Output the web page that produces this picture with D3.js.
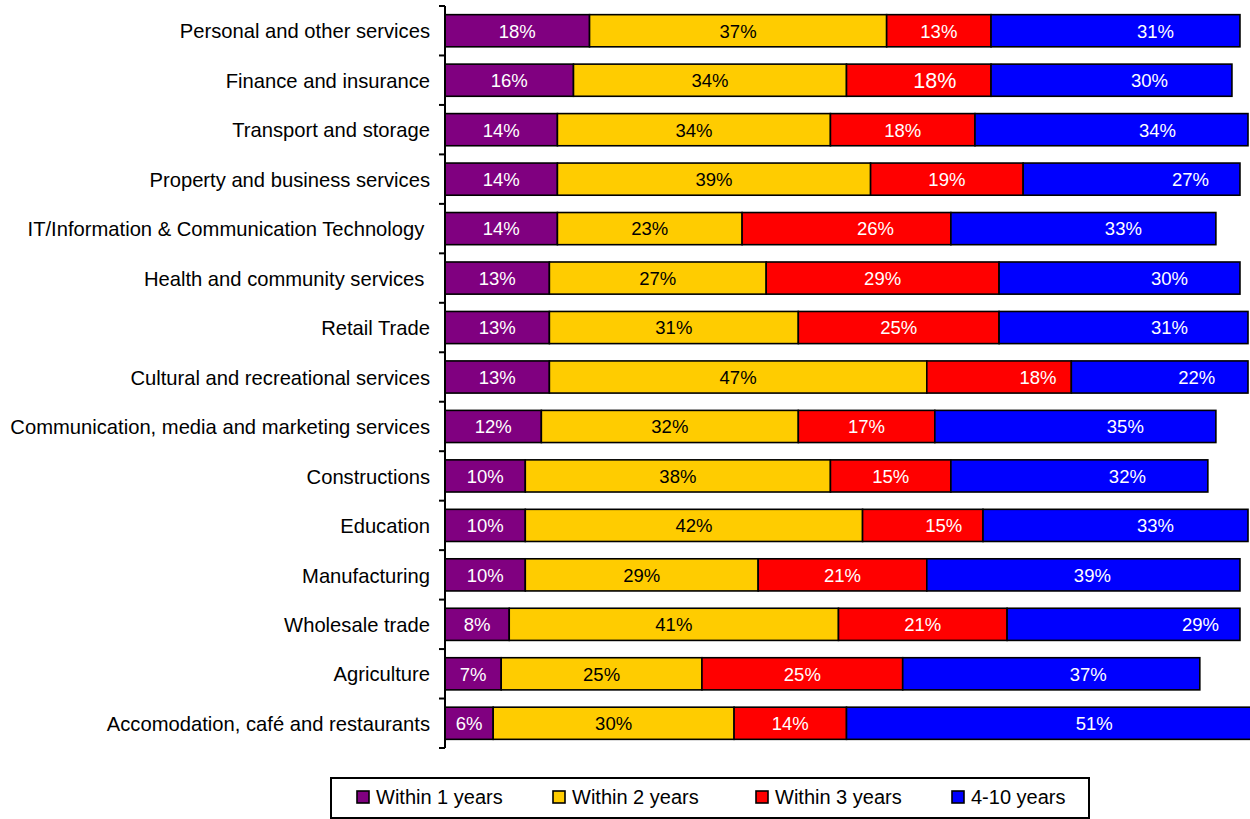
<!DOCTYPE html>
<html>
<head>
<meta charset="utf-8">
<script src="https://cdn.jsdelivr.net/npm/d3@7"></script>
<style>
  html, body { margin: 0; padding: 0; background: #fff; }
  svg { display: block; font-family: "Liberation Sans", Arial, sans-serif; }
</style>
</head>
<body>
<svg id="chart" width="1250" height="819"></svg>
<script>
// Industries, top to bottom
const categories = [
  "Personal and other services",
  "Finance and insurance",
  "Transport and storage",
  "Property and business services",
  "IT/Information & Communication Technology ",
  "Health and community services ",
  "Retail Trade",
  "Cultural and recreational services",
  "Communication, media and marketing services",
  "Constructions",
  "Education",
  "Manufacturing",
  "Wholesale trade",
  "Agriculture",
  "Accomodation, café and restaurants"
];

const seriesNames = ["Within 1 years", "Within 2 years", "Within 3 years", "4-10 years"];

// Share of respondents (%) per industry
const within1 = [18, 16, 14, 14, 14, 13, 13, 13, 12, 10, 10, 10, 8, 7, 6];
const within2 = [37, 34, 34, 39, 23, 27, 31, 47, 32, 38, 42, 29, 41, 25, 30];
const within3 = [13, 18, 18, 19, 26, 29, 25, 18, 17, 15, 15, 21, 21, 25, 14];
const years4to10 = [31, 30, 34, 27, 33, 30, 31, 22, 35, 32, 33, 39, 29, 37, 51];

// Horizontal nudges (px) for value labels: [within1, within2, within3, 4-10]
const labelDx = [
  [0, 0, 0, 40], [0, 0, 16, 38], [0, 0, 0, 46], [0, 0, 0, 59], [0, 0, 29, 40],
  [0, 0, 0, 50], [0, 0, 0, 46], [0, 0, 39, 37], [0, 0, 0, 50], [0, 0, 0, 48],
  [0, 0, 21, 40], [0, 0, 0, 9], [0, 0, 0, 77], [0, 0, 0, 37], [0, 0, 0, 43]
];

const colors = ["#800080", "#FFCC00", "#FF0000", "#0000FF"];
const labelColors = ["#fff", "#000", "#fff", "#fff"];

const svg = d3.select("#chart");

const rows = categories.map((c, i) => ({
  name: c,
  values: [within1[i], within2[i], within3[i], years4to10[i]]
}));

const x = d3.scaleLinear().domain([0, 100]).range([445, 1248]);
const y = d3.scaleBand().domain(categories).range([6, 748]).paddingInner(0.35).paddingOuter(0.175);

const plot = svg.append("g");

rows.forEach((row, ri) => {
  let acc = 0;
  const g = plot.append("g");
  row.values.forEach((v, si) => {
    const x0 = x(acc), x1 = x(acc + v);
    acc += v;
    g.append("rect")
      .attr("x", x0)
      .attr("y", y(row.name))
      .attr("width", x1 - x0)
      .attr("height", y.bandwidth())
      .attr("fill", colors[si])
      .attr("stroke", "#000")
      .attr("stroke-width", 1.6);
    const big = (ri === 1 && si === 2);
    g.append("text")
      .attr("x", (x0 + x1) / 2 + labelDx[ri][si])
      .attr("y", y(row.name) + y.bandwidth() / 2)
      .attr("dy", "0.37em")
      .attr("text-anchor", "middle")
      .attr("font-size", big ? 21.5 : 18.5)
      .attr("fill", labelColors[si])
      .text(v + "%");
  });
});

// Category axis on the left
const axis = d3.axisLeft(y).tickSize(0).tickPadding(15);
const ax = svg.append("g").attr("transform", "translate(445,0)").call(axis);
ax.select(".domain").remove();
ax.selectAll("text").attr("font-size", 20.2).attr("fill", "#000")
  .attr("dy", "0.38em")
  .attr("font-family", "'Liberation Sans', Arial, sans-serif")
  .style("white-space", "pre");

svg.append("line")
  .attr("x1", 445).attr("x2", 445)
  .attr("y1", 6).attr("y2", 748)
  .attr("stroke", "#000").attr("stroke-width", 2);

// Tick marks at category boundaries
const step = (748 - 6) / categories.length;
svg.append("g").selectAll("line")
  .data(d3.range(categories.length + 1))
  .join("line")
  .attr("x1", 439).attr("x2", 445)
  .attr("y1", i => 6 + i * step).attr("y2", i => 6 + i * step)
  .attr("stroke", "#000").attr("stroke-width", 2);

// Legend
const legend = svg.append("g");
legend.append("rect")
  .attr("x", 331).attr("y", 778).attr("width", 758).attr("height", 40)
  .attr("fill", "#fff").attr("stroke", "#000").attr("stroke-width", 2);
const legendX = [357, 553, 756, 952];
seriesNames.forEach((name, i) => {
  legend.append("rect")
    .attr("x", legendX[i]).attr("y", 791).attr("width", 12).attr("height", 12)
    .attr("fill", colors[i]).attr("stroke", "#000").attr("stroke-width", 1.6);
  legend.append("text")
    .attr("x", legendX[i] + 19).attr("y", 804)
    .attr("font-size", 20).attr("fill", "#000")
    .text(name);
});
</script>
</body>
</html>
